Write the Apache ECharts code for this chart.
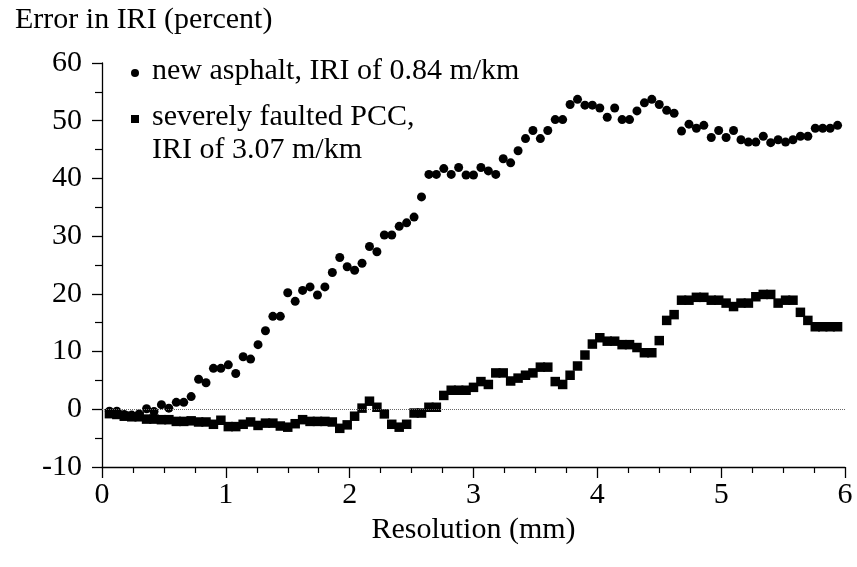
<!DOCTYPE html>
<html>
<head>
<meta charset="utf-8">
<script src="https://cdn.jsdelivr.net/npm/echarts@6/dist/echarts.min.js"></script>
<style>html,body{margin:0;padding:0;background:#fff;}#chart{width:857px;height:567px;}</style>
</head>
<body>
<div id="chart"></div>
<script>
// Resolution (mm)
var resolution = [0.06,0.12,0.18,0.24,0.30,0.36,0.42,0.48,0.54,0.60,0.66,0.72,0.78,0.84,0.90,0.96,1.02,1.08,1.14,1.20,1.26,1.32,1.38,1.44,1.50,1.56,1.62,1.68,1.74,1.80,1.86,1.92,1.98,2.04,2.10,2.16,2.22,2.28,2.34,2.40,2.46,2.52,2.58,2.64,2.70,2.76,2.82,2.88,2.94,3.00,3.06,3.12,3.18,3.24,3.30,3.36,3.42,3.48,3.54,3.60,3.66,3.72,3.78,3.84,3.90,3.96,4.02,4.08,4.14,4.20,4.26,4.32,4.38,4.44,4.50,4.56,4.62,4.68,4.74,4.80,4.86,4.92,4.98,5.04,5.10,5.16,5.22,5.28,5.34,5.40,5.46,5.52,5.58,5.64,5.70,5.76,5.82,5.88,5.94];
// Error in IRI (percent), new asphalt
var asphalt = [-0.35,-0.35,-0.9,-1.0,-0.8,0.1,-0.4,0.8,0.2,1.2,1.2,2.2,5.2,4.6,7.1,7.1,7.7,6.2,9.1,8.7,11.2,13.6,16.1,16.1,20.2,18.7,20.6,21.2,19.8,21.2,23.7,26.3,24.7,24.1,25.3,28.2,27.3,30.2,30.2,31.7,32.3,33.3,36.8,40.7,40.7,41.7,40.7,41.9,40.6,40.6,41.9,41.3,40.7,43.4,42.7,44.8,46.9,48.3,46.9,48.3,50.2,50.2,52.8,53.7,52.7,52.7,52.2,50.6,52.2,50.2,50.2,51.7,53.1,53.7,52.8,51.8,51.3,48.2,49.4,48.7,49.2,47.1,48.3,47.1,48.3,46.7,46.3,46.3,47.3,46.2,46.7,46.3,46.7,47.3,47.3,48.7,48.7,48.7,49.2];
// Error in IRI (percent), severely faulted PCC
var faulted = [-0.76,-0.9,-1.2,-1.3,-1.3,-1.7,-1.7,-1.8,-1.8,-2.1,-2.1,-2.0,-2.2,-2.2,-2.6,-1.9,-3.0,-3.0,-2.6,-2.2,-2.8,-2.4,-2.4,-2.9,-3.1,-2.5,-1.8,-2.1,-2.1,-2.1,-2.2,-3.3,-2.7,-1.2,0.2,1.4,0.35,-0.8,-2.6,-3.1,-2.6,-0.65,-0.65,0.35,0.35,2.4,3.3,3.3,3.3,3.8,4.8,4.3,6.3,6.3,4.9,5.4,5.9,6.3,7.3,7.3,4.8,4.3,5.9,7.5,9.4,11.3,12.4,11.8,11.8,11.2,11.2,10.7,9.8,9.8,11.9,15.4,16.4,18.9,18.9,19.4,19.4,18.9,18.9,18.4,17.8,18.4,18.4,19.5,19.9,19.9,18.4,18.9,18.9,16.8,15.4,14.3,14.3,14.3,14.3];
var seriesNames = ['new asphalt, IRI of 0.84 m/km', 'severely faulted PCC,', 'IRI of 3.07 m/km'];
var yTitle = 'Error in IRI (percent)';
var xTitle = 'Resolution (mm)';

function pairs(xs, ys) { return xs.map(function (x, i) { return [x, ys[i]]; }); }

var FONT = 'Liberation Serif';
var FS = 30;
var chart = echarts.init(document.getElementById('chart'), null, {renderer: 'canvas'});
chart.setOption({
  animation: false,
  backgroundColor: '#fff',
  title: {
    text: yTitle, left: 10, top: 0,
    textStyle: {fontFamily: FONT, fontSize: FS, fontWeight: 'normal', color: '#000'}
  },
  grid: {left: 102, right: 12, top: 63, bottom: 100},
  xAxis: {
    type: 'value', min: 0, max: 6, interval: 1,
    name: xTitle, nameLocation: 'middle', nameGap: 39,
    nameTextStyle: {fontFamily: FONT, fontSize: FS, color: '#000'},
    axisLine: {show: true, onZero: false, lineStyle: {color: '#000', width: 1.3}},
    axisTick: {show: true, length: 11, lineStyle: {color: '#000', width: 1.3}},
    minorTick: {show: true, splitNumber: 4, length: 6, lineStyle: {color: '#000', width: 1.2}},
    axisLabel: {fontFamily: FONT, fontSize: FS, color: '#000', margin: 13},
    splitLine: {show: false}
  },
  yAxis: {
    type: 'value', min: -10, max: 60, interval: 10,
    axisLine: {show: true, lineStyle: {color: '#000', width: 1.3}},
    axisTick: {show: true, length: 10, lineStyle: {color: '#000', width: 1.3}},
    minorTick: {show: true, splitNumber: 2, length: 7, lineStyle: {color: '#000', width: 1.2}},
    axisLabel: {fontFamily: FONT, fontSize: FS, color: '#000', margin: 20},
    splitLine: {show: false}
  },
  graphic: [
    {type: 'circle', shape: {cx: 135, cy: 73, r: 4}, style: {fill: '#000'}},
    {type: 'text', left: 152, top: 56, style: {text: seriesNames[0], font: FS + 'px "Liberation Serif"', fill: '#000'}},
    {type: 'rect', shape: {x: 131, y: 115, width: 8, height: 8}, style: {fill: '#000'}},
    {type: 'text', left: 152, top: 102, style: {text: seriesNames[1], font: FS + 'px "Liberation Serif"', fill: '#000'}},
    {type: 'text', left: 152, top: 135, style: {text: seriesNames[2], font: FS + 'px "Liberation Serif"', fill: '#000'}}
  ],
  series: [
    {
      name: seriesNames[0], type: 'scatter', symbol: 'circle', symbolSize: 9,
      itemStyle: {color: '#000', opacity: 1},
      data: pairs(resolution, asphalt),
      markLine: {
        silent: true, symbol: 'none', label: {show: false},
        lineStyle: {type: 'dotted', color: '#666', width: 1},
        data: [{yAxis: 0}]
      }
    },
    {
      name: seriesNames[1], type: 'scatter', symbol: 'rect', symbolSize: 9.5,
      itemStyle: {color: '#000', opacity: 1},
      data: pairs(resolution, faulted)
    }
  ]
});
</script>
</body>
</html>
